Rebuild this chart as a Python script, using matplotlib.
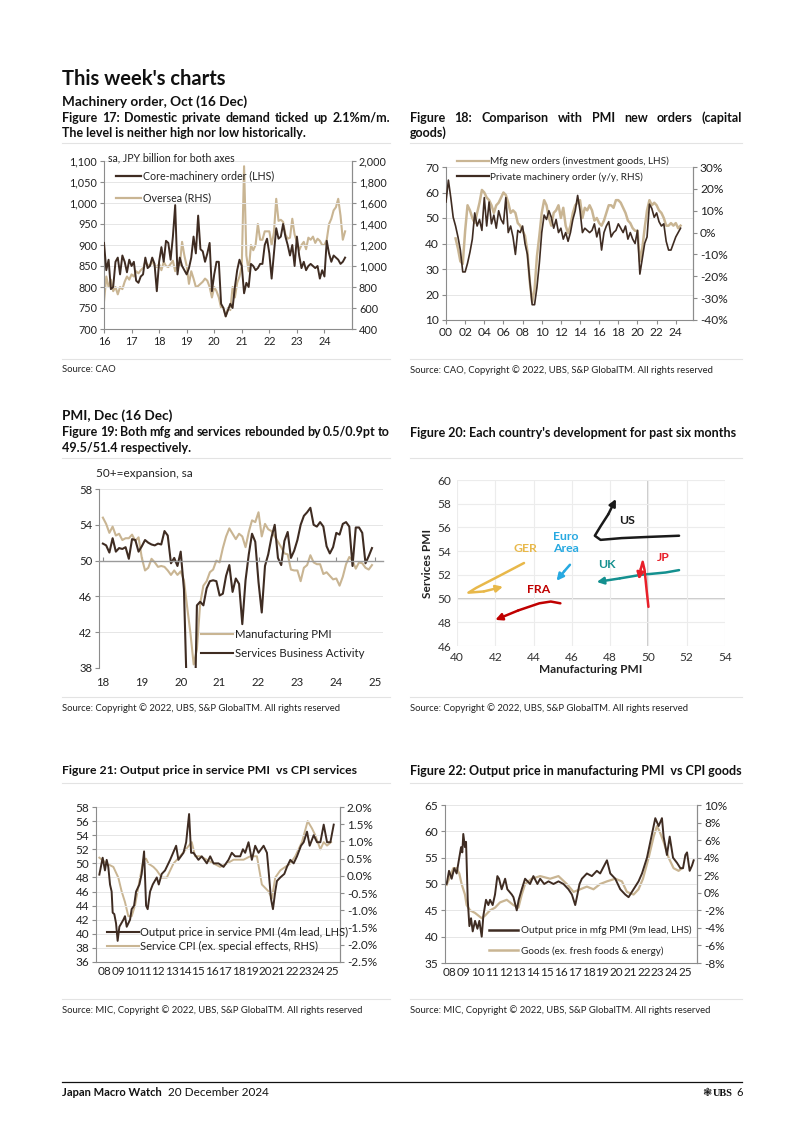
import numpy as np
import matplotlib
matplotlib.use("Agg")
import matplotlib.pyplot as plt
from matplotlib.lines import Line2D
from matplotlib.ticker import FuncFormatter

plt.rcParams['font.family'] = ['Lato', 'DejaVu Sans']
plt.rcParams['axes.unicode_minus'] = False

DARK = '#3f2c22'
TAN = '#c9b593'
GRID = '#e6e6e6'
SPINE = '#8c8c8c'
TXT = '#222222'

# ---------------- data ----------------
# Fig 17: machinery orders, monthly from Jan 2016 (JPY bn)
core17 = [905, 840, 865, 795, 800, 860, 870, 830, 875, 860, 835, 865,
          850, 860, 815, 810, 825, 830, 870, 845, 850, 870, 855, 790,
          860, 895, 860, 910, 905, 865, 920, 995, 830, 870, 850, 840,
          830, 845, 870, 920, 880, 970, 890, 885, 860, 880, 905, 790,
          830, 860, 860, 760, 750, 730, 745, 760, 750, 800, 840, 865,
          850, 785, 810, 800, 855, 850, 840, 845, 855, 855, 900, 915,
          880, 820, 880, 940, 915, 920, 950, 920, 900, 875, 900, 850,
          920, 875, 845, 860, 840, 850, 855, 850, 845, 850, 820, 840,
          825, 910, 880, 860, 875, 870, 865, 855, 860, 870]
oversea17 = [660, 900, 800, 870, 760, 800, 730, 800, 780, 850, 900, 870,
             920, 900, 950, 930, 960, 980, 1040, 1010, 1000, 1050, 1000, 990,
             1020, 960, 1040, 1000, 990, 1020, 1050, 950, 1020, 1000, 1230, 1100,
             1000, 830, 950, 880, 800, 810, 830, 850, 880, 860, 800, 700,
             800, 760, 700, 600, 600, 520, 600, 580, 800, 700, 840, 900,
             1000, 1950, 1100, 950, 1200, 1150, 1200, 1400, 1250, 1250, 1330, 1330,
             1330, 1200, 1320, 1640, 1430, 1440, 1420, 1300, 1260, 1270, 1450, 1300,
             1230, 1150, 1200, 1230, 1160, 1270, 1250, 1280, 1220, 1260, 1240, 1200,
             1200, 1250, 1400, 1450, 1530, 1560, 1640, 1480, 1250, 1330]

# Fig 18: quarterly; private machinery order y/y (%) from 2000Q1, PMI new orders from 2001Q1
machy18 = [14, 24, 16, 7, 3, -2, -8, -18, -18, -14, -9, -3, 9, 3, 6, 1,
           16, 3, 14, 4, 8, 2, 10, 6, 4, 16, 0, 3, -2, -10, 1, 0,
           3, -5, -10, -22, -33, -33, -25, -14, 0, 8, 6, 10, 7, 2, 6, 0,
           2, -3, 0, -4, 0, 6, 10, 17, 10, 0, 2, 1, 0, 1, 4, -2,
           2, -8, 0, 3, 5, -2, 0, 1, 4, 2, 0, 3, -3, 0, -3, -5,
           1, -19, -12, -5, -2, 13, 11, 7, 9, 5, 3, 4, -4, -8, -8, -5,
           -2, 0, 2]
neword18 = [42, 38, 33, 32, 45, 55, 53, 50, 48, 52, 56, 61, 60, 58, 57, 55,
            52, 55, 56, 58, 60, 59, 56, 52, 53, 52, 48, 47, 45, 43, 37, 25,
            17, 22, 35, 43, 52, 57, 55, 50, 47, 52, 53, 55, 50, 54, 47, 44,
            47, 52, 55, 56, 57, 50, 54, 53, 55, 53, 49, 50, 48, 47, 49, 52,
            55, 55, 54, 57, 57, 56, 54, 52, 49, 48, 46, 45, 45, 33, 38, 46,
            53, 57, 55, 56, 55, 53, 52, 50, 47, 47, 48, 47, 48, 46, 47]

# Fig 19: Japan PMI, monthly from Jan 2018
mfg19 = [54.8, 54.1, 53.1, 53.8, 52.8, 53.0, 52.3, 52.5, 52.5, 52.9, 52.2, 52.6,
         50.3, 48.9, 49.2, 50.2, 49.8, 49.3, 49.4, 49.3, 48.9, 48.4, 48.9, 48.4,
         48.8, 47.8, 44.8, 41.9, 38.4, 40.1, 45.2, 47.2, 47.7, 48.7, 49.0, 50.0,
         49.8, 51.4, 52.7, 53.6, 53.0, 52.4, 53.0, 52.7, 51.5, 53.2, 54.5, 54.3,
         55.4, 52.7, 54.1, 53.5, 53.3, 52.7, 52.1, 51.5, 50.8, 50.7, 49.0, 48.9,
         48.9, 47.7, 49.2, 49.5, 50.6, 49.8, 49.6, 49.6, 48.5, 48.7, 48.3, 47.9,
         48.0, 47.2, 48.2, 49.6, 50.4, 50.0, 49.1, 49.8, 49.7, 49.2, 49.0, 49.5]
svc19 = [51.9, 51.7, 50.9, 52.5, 51.0, 51.4, 51.3, 51.5, 50.2, 52.4, 52.3, 51.0,
         51.6, 52.3, 52.0, 51.8, 51.7, 51.9, 51.8, 53.3, 52.8, 49.7, 50.3, 49.4,
         51.0, 46.8, 33.8, 21.5, 26.5, 45.0, 45.4, 45.0, 46.9, 47.7, 47.8, 47.7,
         46.1, 46.3, 48.3, 49.5, 46.5, 48.0, 47.4, 42.9, 47.8, 50.7, 53.0, 52.1,
         47.6, 44.2, 49.4, 50.7, 52.6, 54.0, 50.3, 49.5, 52.2, 53.2, 50.3, 51.1,
         52.3, 54.0, 55.0, 55.4, 55.9, 54.0, 53.8, 54.3, 53.8, 51.6, 50.8, 51.5,
         53.1, 52.9, 54.1, 54.3, 53.8, 49.4, 53.7, 53.7, 53.1, 49.7, 50.5, 51.4]

# Fig 20: (manufacturing PMI, services PMI) paths over past six months
paths20 = {
    'US':  ([51.6, 50.0, 48.6, 47.5, 47.2, 47.5, 47.9, 48.3], [55.3, 55.2, 55.1, 54.95, 55.3, 56.1, 57.1, 58.4]),
    'GER': ([43.5, 42.2, 41.0, 40.6, 41.4, 42.4], [53.0, 51.9, 50.9, 50.5, 50.6, 51.0]),
    'EA':  ([45.9, 45.6, 45.2], [52.85, 52.3, 51.5]),
    'UK':  ([51.6, 50.9, 49.6, 48.5, 47.3], [52.4, 52.2, 52.0, 51.7, 51.4]),
    'JP':  ([50.0, 49.9, 49.8, 49.7, 49.6, 49.5], [49.3, 50.8, 52.4, 53.1, 52.5, 51.6]),
    'FRA': ([45.4, 44.9, 44.3, 43.2, 42.0], [49.6, 49.75, 49.6, 49.0, 48.2]),
}
labels20 = {'US': 'US', 'GER': 'GER', 'EA': 'Euro\nArea', 'UK': 'UK', 'JP': 'JP', 'FRA': 'FRA'}
label_pos20 = {'US': (48.9, 56.6), 'GER': (43.6, 54.2), 'EA': (45.7, 54.7),
               'UK': (47.85, 52.9), 'JP': (50.75, 53.45), 'FRA': (44.25, 50.75)}
colors20 = {'US': '#1a1a1a', 'GER': '#e8b84a', 'EA': '#27a9e1', 'UK': '#14908f',
            'JP': '#e8202a', 'FRA': '#c00000'}

# Fig 21: output price in service PMI (4m lead) and service CPI
t21_pmi = [2007.58, 2007.83, 2008.0, 2008.13, 2008.25, 2008.38, 2008.5, 2008.58, 2008.7, 2008.83,
           2008.95, 2009.08, 2009.38, 2009.5, 2009.63, 2009.88, 2010.0, 2010.18, 2010.33, 2010.58,
           2010.75, 2010.93, 2011.08, 2011.2, 2011.38, 2011.58, 2011.88, 2012.03, 2012.25, 2012.5,
           2012.88, 2013.33, 2013.5, 2013.88, 2014.08, 2014.3, 2014.45, 2014.63, 2015.0, 2015.25,
           2015.63, 2015.88, 2016.13, 2016.5, 2016.88, 2017.25, 2017.5, 2017.75, 2018.13, 2018.33,
           2018.5, 2018.75, 2019.0, 2019.25, 2019.5, 2019.88, 2020.13, 2020.25, 2020.43, 2020.58,
           2020.75, 2020.88, 2021.13, 2021.43, 2021.63, 2021.88, 2022.13, 2022.38, 2022.68, 2022.88,
           2023.13, 2023.33, 2023.63, 2023.88, 2024.13, 2024.38, 2024.63, 2024.88, 2025.13]
svc_pmi21 = [48.4, 50.8, 49.0, 50.5, 49.5, 47.0, 46.0, 43.0, 42.8, 41.5,
             39.0, 41.0, 42.0, 42.5, 41.0, 42.0, 43.5, 44.0, 46.0, 47.0,
             48.5, 51.7, 44.0, 43.5, 46.0, 47.0, 48.0, 47.0, 48.5, 49.0,
             50.5, 52.5, 50.5, 51.5, 53.0, 57.0, 51.5, 51.5, 50.5, 51.0,
             50.0, 51.0, 50.0, 50.0, 49.5, 50.5, 51.5, 51.0, 51.0, 52.0,
             51.5, 53.0, 50.5, 52.5, 51.5, 52.5, 51.5, 49.0, 45.0, 43.5,
             46.0, 47.5, 48.0, 48.5, 49.5, 50.5, 50.0, 51.0, 52.5, 53.0,
             54.5, 52.5, 54.0, 53.0, 53.0, 55.5, 53.0, 53.0, 55.5]
t21_cpi = [2007.58, 2008.13, 2008.63, 2009.0, 2009.25, 2009.5, 2009.75, 2010.0, 2010.25, 2010.63,
           2010.88, 2011.08, 2011.25, 2011.63, 2011.88, 2012.25, 2012.63, 2013.13, 2013.63, 2014.5,
           2014.75, 2015.13, 2015.63, 2016.13, 2016.63, 2017.13, 2017.63, 2018.38, 2018.88, 2019.38,
           2019.75, 2020.25, 2020.5, 2020.75, 2021.13, 2021.5, 2021.88, 2022.25, 2022.75, 2023.18,
           2023.5, 2023.75, 2024.13, 2024.38, 2024.63, 2024.93]
svc_cpi21 = [0.53, 0.36, 0.26, -0.05, -0.45, -0.76, -1.17, -1.17, -0.86, -0.05,
             0.47, 0.50, 0.36, 0.26, 0.16, -0.05, -0.05, 0.36, 0.57, 0.98,
             0.57, 0.57, 0.47, 0.36, 0.26, 0.36, 0.47, 0.47, 0.57, 0.57,
             -0.25, -0.45, -0.66, -0.05, 0.16, 0.26, 0.36, 0.57, 0.98, 1.59,
             1.38, 1.18, 0.77, 0.98, 0.88, 0.98]

# Fig 22: output price in mfg PMI (9m lead) and goods CPI
t22_pmi = [2007.76, 2007.93, 2008.12, 2008.31, 2008.48, 2008.67, 2008.8, 2008.89, 2008.96, 2009.08,
           2009.16, 2009.28, 2009.4, 2009.52, 2009.64, 2009.81, 2009.98, 2010.12, 2010.29, 2010.41,
           2010.6, 2010.77, 2010.89, 2011.08, 2011.25, 2011.42, 2011.54, 2011.73, 2011.98, 2012.14,
           2012.46, 2012.58, 2012.82, 2012.96, 2013.18, 2013.42, 2013.78, 2014.02, 2014.31, 2014.51,
           2014.8, 2015.11, 2015.47, 2015.83, 2016.19, 2016.55, 2016.8, 2017.04, 2017.16, 2017.35,
           2017.52, 2017.88, 2018.24, 2018.6, 2018.84, 2019.33, 2019.57, 2019.93, 2020.29, 2020.65,
           2020.89, 2021.13, 2021.37, 2021.61, 2021.86, 2022.22, 2022.46, 2022.82, 2023.06, 2023.3,
           2023.42, 2023.66, 2023.86, 2024.1, 2024.39, 2024.63, 2024.82, 2024.99, 2025.11, 2025.3,
           2025.47, 2025.59]
mfg_pmi22 = [50.0, 52.5, 51.0, 53.0, 52.0, 55.0, 57.0, 56.0, 59.5, 57.0,
             58.0, 47.0, 42.0, 43.5, 41.0, 43.0, 41.5, 43.0, 40.0, 44.0,
             47.0, 46.0, 47.0, 46.0, 48.0, 51.5, 51.0, 49.0, 51.0, 49.0,
             48.0, 47.5, 45.0, 47.0, 49.0, 51.0, 50.0, 51.5, 50.0, 51.0,
             50.0, 50.5, 50.0, 50.5, 50.0, 49.0, 48.0, 46.0, 47.5, 50.0,
             51.0, 52.0, 51.5, 52.5, 52.0, 54.5, 52.0, 51.0, 49.0, 48.0,
             47.5, 48.5, 49.5, 50.5, 52.0, 55.0, 58.0, 62.5, 61.0, 62.5,
             59.0, 55.5, 59.0, 55.0, 54.0, 53.0, 53.0, 55.5, 56.0, 52.5,
             53.5, 54.5]
t22_cpi = [2007.76, 2008.24, 2008.48, 2008.67, 2008.84, 2009.08, 2009.2, 2009.45, 2009.81, 2010.29,
           2010.53, 2010.89, 2011.25, 2011.61, 2012.1, 2012.58, 2012.94, 2013.18, 2013.42, 2013.9,
           2014.51, 2015.23, 2015.83, 2016.43, 2016.92, 2017.4, 2017.88, 2018.36, 2018.84, 2019.33,
           2019.93, 2020.41, 2020.77, 2021.25, 2021.61, 2021.93, 2022.34, 2022.7, 2022.94, 2023.13,
           2023.42, 2023.78, 2024.14, 2024.5, 2024.75]
goods_cpi22 = [0.9, 2.8, 2.8, 2.2, 1.0, -0.2, -1.4, -2.0, -2.3, -2.9,
               -2.6, -2.0, -1.7, -1.1, -0.8, -1.4, -1.7, -0.2, 1.0, 1.6,
               1.9, 1.6, 1.9, 1.0, 0.1, 0.4, 0.7, 0.4, 1.0, 1.3,
               1.6, 1.3, 0.1, -0.2, 0.4, 1.6, 4.0, 6.4, 7.6, 7.0,
               5.8, 4.0, 2.8, 2.5, 2.8]

# ---------------- layout helpers ----------------
W, H = 802, 1134
fig = plt.figure(figsize=(W / 100, H / 100), dpi=100)
fig.patch.set_facecolor('white')
REND = fig.canvas.get_renderer()


def rect(x0, y0, x1, y1):
    return [x0 / W, 1 - y1 / H, (x1 - x0) / W, (y1 - y0) / H]


def txt(x, y, s, **kw):
    kw.setdefault('va', 'center')
    kw.setdefault('color', TXT)
    return fig.text(x / W, 1 - y / H, s, **kw)


def width(s, **kw):
    t = txt(0, 0, s, **kw)
    w = t.get_window_extent(REND).width
    t.remove()
    return w


def justified(x0, x1, y, line, **kw):
    # measure each word, then spread them across the full width
    words = line.split()
    ws = [width(w, **kw) for w in words]
    gap = (x1 - x0 - sum(ws)) / (len(words) - 1)
    x = x0
    for w, wd in zip(words, ws):
        txt(x, y, w, **kw)
        x += wd + gap


def hline(x0, x1, y, color='#e3e3e3', lw=0.8):
    fig.add_artist(Line2D([x0 / W, x1 / W], [1 - y / H, 1 - y / H], color=color, lw=lw))


def style(ax, right=None, size=8):
    ax.spines['top'].set_visible(False)
    for s in ['left', 'bottom', 'right']:
        ax.spines[s].set_color(SPINE)
        ax.spines[s].set_linewidth(0.8)
    if right is None:
        ax.spines['right'].set_visible(False)
    ax.tick_params(direction='out', length=3, width=0.8, color=SPINE,
                   labelsize=size, labelcolor=TXT, pad=2)
    ax.set_facecolor('none')


TITLE = dict(fontsize=9, fontweight='bold', color='#111111')
SRC = dict(fontsize=6.8)

# ---------------- header texts ----------------
txt(62, 79, "This week's charts", fontsize=14.5, fontweight='bold', color='#111111')
txt(62, 102, "Machinery order, Oct (16 Dec)", fontsize=9.8, fontweight='bold', color='#111111')
justified(62, 390, 118, "Figure 17: Domestic private demand ticked up 2.1%m/m.", **TITLE)
txt(62, 133, "The level is neither high nor low historically.", **TITLE)
justified(410, 742, 118, "Figure 18: Comparison with PMI new orders (capital", **TITLE)
txt(410, 133, "goods)", **TITLE)
hline(62, 390, 143)
hline(410, 742, 143)
hline(62, 390, 359)
hline(410, 742, 359)
txt(62, 370, "Source: CAO", **SRC)
txt(410, 370, "Source: CAO, Copyright \u00a9 2022, UBS, S&P GlobalTM. All rights reserved", **SRC)

txt(62, 416, "PMI, Dec (16 Dec)", fontsize=9.8, fontweight='bold', color='#111111')
justified(62, 390, 432, "Figure 19: Both mfg and services rebounded by 0.5/0.9pt to", **TITLE)
txt(62, 448, "49.5/51.4 respectively.", **TITLE)
txt(410, 433, "Figure 20: Each country's development for past six months", **TITLE)
hline(62, 390, 458)
hline(410, 742, 458)
hline(62, 390, 697)
hline(410, 742, 697)
txt(62, 708, "Source: Copyright \u00a9 2022, UBS, S&P GlobalTM. All rights reserved", **SRC)
txt(410, 708, "Source: Copyright \u00a9 2022, UBS, S&P GlobalTM. All rights reserved", **SRC)

txt(62, 771, "Figure 21: Output price in service PMI  vs CPI services", fontsize=8.8,
    fontweight='bold', color='#111111')
txt(410, 771, "Figure 22: Output price in manufacturing PMI  vs CPI goods", **TITLE)
hline(62, 390, 783)
hline(410, 742, 783)
hline(62, 390, 999)
hline(410, 742, 999)
txt(62, 1010, "Source: MIC, Copyright \u00a9 2022, UBS, S&P GlobalTM. All rights reserved", **SRC)
txt(410, 1010, "Source: MIC, Copyright \u00a9 2022, UBS, S&P GlobalTM. All rights reserved", **SRC)

# footer
hline(62, 742, 1082, color='#111111', lw=0.9)
FOOT = dict(fontsize=8, fontweight='bold', color='#111111',
            family=['Liberation Sans Narrow', 'Lato', 'DejaVu Sans'])
txt(62, 1093, "Japan Macro Watch", **FOOT)
date_x = max(137, 62 + width("Japan Macro Watch", **FOOT) + 6)
txt(date_x, 1093, "20 December 2024", fontsize=8.5, color='#111111')
txt(702, 1093, "\u2743", fontsize=8, color='#111111', family=['DejaVu Sans'])
txt(713, 1093, "UBS", fontsize=7.5, fontweight='bold', color='#111111', family=['Liberation Serif'])
txt(736, 1093, "6", fontsize=8, color='#111111')

# ---------------- Fig 17 ----------------
t17 = 2016 + np.arange(len(core17)) / 12
ax = fig.add_axes(rect(104, 161, 352, 329))
ax2 = ax.twinx()
ax.plot(t17, core17, color=DARK, lw=1.4, zorder=3)
ax2.plot(t17, oversea17, color=TAN, lw=1.5)
ax.set_zorder(ax2.get_zorder() + 1)
ax.set_xlim(2016, 2025)
ax.set_ylim(700, 1100)
ax2.set_ylim(400, 2000)
ax.set_yticks(np.arange(700, 1101, 50))
ax2.set_yticks(np.arange(400, 2001, 200))
fmt = FuncFormatter(lambda v, p: f'{v:,.0f}')
ax.yaxis.set_major_formatter(fmt)
ax2.yaxis.set_major_formatter(fmt)
ax.set_xticks(np.arange(2016, 2025))
ax.set_xticklabels([f'{y % 100:02d}' for y in range(2016, 2025)])
ax.grid(axis='y', color=GRID, lw=0.7)
style(ax, right=True, size=7.8)
style(ax2, right=True, size=7.8)
ax2.spines['left'].set_visible(False)
ax2.spines['bottom'].set_visible(False)
ax.legend(handles=[Line2D([], [], color=DARK, lw=1.6, label='Core-machinery order (LHS)'),
                   Line2D([], [], color=TAN, lw=1.6, label='Oversea (RHS)')],
          loc='upper left', bbox_to_anchor=(0.032, 0.965), frameon=False, fontsize=7.7,
          handlelength=2.35, handletextpad=0.12, labelspacing=0.95, borderaxespad=0,
          labelcolor=TXT)
txt(108, 158, "sa, JPY billion for both axes", fontsize=7.6)

# ---------------- Fig 18 ----------------
t18 = 2000 + np.arange(len(machy18)) / 4
t18b = 2001 + np.arange(len(neword18)) / 4
ax = fig.add_axes(rect(446, 167, 693, 320))
ax2 = ax.twinx()
ax.plot(t18b, neword18, color=TAN, lw=1.8)
ax2.plot(t18, machy18, color=DARK, lw=1.2)
ax.set_xlim(2000, 2025.8)
ax.set_ylim(10, 70)
ax2.set_ylim(-40, 30)
ax.set_yticks(np.arange(10, 71, 10))
ax2.set_yticks(np.arange(-40, 31, 10))
ax2.yaxis.set_major_formatter(FuncFormatter(lambda v, p: f'{v:.0f}%'))
ax.set_xticks(np.arange(2000, 2025, 2))
ax.set_xticklabels([f'{y % 100:02d}' for y in range(2000, 2025, 2)])
ax.grid(axis='y', color=GRID, lw=0.7)
style(ax, right=True, size=8.6)
style(ax2, right=True, size=8.6)
ax2.spines['left'].set_visible(False)
ax2.spines['bottom'].set_visible(False)
ax.legend(handles=[Line2D([], [], color=TAN, lw=1.6, label='Mfg new orders (investment goods, LHS)'),
                   Line2D([], [], color=DARK, lw=1.6, label='Private machinery order (y/y, RHS)')],
          loc='upper left', bbox_to_anchor=(0.028, 1.095), frameon=False, fontsize=7.2,
          handlelength=3.2, handletextpad=0.1, labelspacing=0.6, borderaxespad=0,
          labelcolor=TXT)

# ---------------- Fig 19 ----------------
t19 = 2018 + np.arange(len(mfg19)) / 12
ax = fig.add_axes(rect(99, 489, 383, 668))
ax.plot(t19, mfg19, color=TAN, lw=1.5, label='Manufacturing PMI')
ax.plot(t19, svc19, color=DARK, lw=1.5, label='Services Business Activity')
ax.set_xlim(2017.9, 2025.2)
ax.set_ylim(38, 58)
ax.set_yticks(np.arange(38, 59, 4))
ax.set_xticks(np.arange(2018, 2026))
ax.set_xticklabels([f'{y % 100:02d}' for y in range(2018, 2026)])
ax.grid(axis='y', color=GRID, lw=0.7)
style(ax, size=8.2)
ax.spines['bottom'].set_position(('data', 50))
ax.spines['bottom'].set_color('#9a9a9a')
ax.spines['bottom'].set_linewidth(1.0)
ax.tick_params(axis='x', direction='in', length=3, pad=84)
ax.legend(loc='lower right', bbox_to_anchor=(0.95, 0.025), frameon=False, fontsize=8.2,
          handlelength=2.8, handletextpad=0.12, labelspacing=0.7, borderaxespad=0,
          labelcolor=TXT)
txt(96, 474, "50+=expansion, sa", fontsize=8.5)

# ---------------- Fig 20 ----------------
ax = fig.add_axes(rect(457, 480, 725, 646))
ax.set_xlim(40, 54)
ax.set_ylim(46, 60)
ax.set_xticks(np.arange(40, 55, 2))
ax.set_yticks(np.arange(46, 61, 2))
ax.grid(True, color='#ececec', lw=0.8)
ax.axhline(50, color='#c4c4c4', lw=1.2, zorder=1)
ax.axvline(50, color='#c4c4c4', lw=1.2, zorder=1)
for s in ax.spines.values():
    s.set_visible(False)
ax.tick_params(length=0, labelsize=8.6, labelcolor='#333333', pad=4)
for k, (xs, ys) in paths20.items():
    c = colors20[k]
    ax.plot(xs[:-1], ys[:-1], color=c, lw=1.8, solid_capstyle='round', zorder=3)
    ax.annotate('', xy=(xs[-1], ys[-1]), xytext=(xs[-2], ys[-2]),
                arrowprops=dict(arrowstyle='-|>', color=c, lw=1.8, mutation_scale=10,
                                shrinkA=0, shrinkB=0), zorder=4)
    lx, ly = label_pos20[k]
    ax.text(lx, ly, labels20[k], color=c, fontsize=8.8, fontweight='bold',
            ha='center', va='center', linespacing=1.1)
ax.set_xlabel('Manufacturing PMI', fontsize=8.6, fontweight='bold', color=TXT, labelpad=1)
ax.set_ylabel('Services PMI', fontsize=8.6, fontweight='bold', color=TXT, labelpad=3)

# ---------------- Fig 21 ----------------
ax = fig.add_axes(rect(96, 807, 340, 962))
ax2 = ax.twinx()
ax2.plot(t21_cpi, svc_cpi21, color=TAN, lw=1.4)
ax.plot(t21_pmi, svc_pmi21, color=DARK, lw=1.4)
ax.set_zorder(ax2.get_zorder() + 1)
ax.set_xlim(2007.33, 2025.6)
ax.set_ylim(36, 58)
ax2.set_ylim(-2.5, 2.0)
ax.set_yticks(np.arange(36, 59, 2))
ax2.set_yticks(np.arange(-2.5, 2.01, 0.5))
ax2.yaxis.set_major_formatter(FuncFormatter(lambda v, p: f'{v:.1f}%'))
ax.set_xticks(np.arange(2008, 2026))
ax.set_xticklabels([f'{y % 100:02d}' for y in range(2008, 2026)])
ax.grid(axis='y', color=GRID, lw=0.7)
style(ax, right=True, size=8.5)
style(ax2, right=True, size=8.5)
ax2.spines['left'].set_visible(False)
ax2.spines['bottom'].set_visible(False)
ax.tick_params(axis='x', length=0, pad=3)
ax.legend(handles=[Line2D([], [], color=DARK, lw=1.5, label='Output price in service PMI (4m lead, LHS)'),
                   Line2D([], [], color=TAN, lw=1.5, label='Service CPI (ex. special effects, RHS)')],
          loc='lower left', bbox_to_anchor=(0.025, 0.035), frameon=False, fontsize=8,
          handlelength=2.9, handletextpad=0.15, labelspacing=0.25, borderaxespad=0,
          labelcolor=TXT)

# ---------------- Fig 22 ----------------
ax = fig.add_axes(rect(445, 805, 697, 963))
ax2 = ax.twinx()
ax2.plot(t22_cpi, goods_cpi22, color=TAN, lw=1.6)
ax.plot(t22_pmi, mfg_pmi22, color=DARK, lw=1.4)
ax.set_zorder(ax2.get_zorder() + 1)
ax.set_xlim(2007.64, 2025.83)
ax.set_ylim(35, 65)
ax2.set_ylim(-8, 10)
ax.set_yticks(np.arange(35, 66, 5))
ax2.set_yticks(np.arange(-8, 11, 2))
ax2.yaxis.set_major_formatter(FuncFormatter(lambda v, p: f'{v:.0f}%'))
ax.set_xticks(np.arange(2008, 2026))
ax.set_xticklabels([f'{y % 100:02d}' for y in range(2008, 2026)])
ax.grid(axis='y', color=GRID, lw=0.7)
style(ax, right=True, size=8.5)
style(ax2, right=True, size=8.5)
ax2.spines['left'].set_visible(False)
ax2.spines['bottom'].set_visible(False)
ax.tick_params(axis='x', length=0, pad=3)
ax.legend(handles=[Line2D([], [], color=DARK, lw=1.8, label='Output price in mfg PMI (9m lead, LHS)'),
                   Line2D([], [], color=TAN, lw=1.8, label='Goods (ex. fresh foods & energy)')],
          loc='lower left', bbox_to_anchor=(0.159, 0.02), frameon=False, fontsize=7.1,
          handlelength=2.9, handletextpad=0.3, labelspacing=1.15, borderaxespad=0,
          labelcolor=TXT)

fig.savefig('out.png', dpi=100)
